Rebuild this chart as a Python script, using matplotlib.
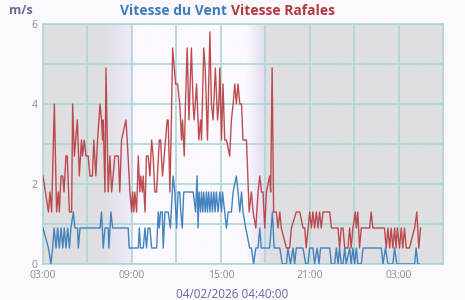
import numpy as np
import matplotlib
matplotlib.use("Agg")
import matplotlib.pyplot as plt
from matplotlib.ticker import MultipleLocator, FuncFormatter
from matplotlib.colors import to_rgb

plt.rcParams['font.family'] = ['Open Sans', 'DejaVu Sans']

# minutes after 03:00 on 03/02/2026, speeds in m/s
gust_min = [0, 22, 28, 35, 46, 55, 62, 66, 73, 80, 85, 93, 98, 107, 116, 120, 127, 139, 147, 156,
            160, 167, 174, 183, 190, 200, 206, 214, 221, 231, 237, 241, 244, 251, 255, 264, 271, 278, 291, 305,
            311, 318, 336, 341, 352, 359, 363, 368, 372, 379, 386, 392, 396, 402, 406, 413, 419, 426, 433, 440,
            446, 453, 460, 471, 476, 484, 491, 503, 507, 514, 520, 525, 537, 545, 554, 561, 565, 572, 577, 584,
            591, 601, 608, 612, 622, 631, 638, 642, 651, 657, 666, 676, 682, 689, 698, 707, 712, 716, 723, 729,
            736, 743, 756, 763, 770, 777, 783, 790, 797, 804, 810, 824, 835, 844, 851, 862, 871, 878, 885, 891,
            898, 905, 918, 922, 928, 934, 945, 952, 959, 965, 986, 999, 1006, 1026, 1040, 1053, 1060, 1066, 1080, 1087,
            1093, 1100, 1107, 1114, 1120, 1127, 1134, 1161, 1168, 1195, 1201, 1208, 1215, 1222, 1235, 1242, 1248, 1255, 1265, 1269,
            1275, 1282, 1289, 1323, 1329, 1336, 1383, 1390, 1397, 1404, 1410, 1417, 1424, 1430, 1435, 1444, 1451, 1457, 1464, 1471,
            1484, 1505, 1514, 1522, 1529]
gust_val = [2.2, 1.3, 1.8, 1.3, 4.0, 1.3, 1.8, 1.3, 2.2, 2.2, 1.8, 2.7, 2.7, 1.3, 1.3, 4.0, 2.7, 3.6, 2.2, 3.1,
            2.7, 3.1, 2.7, 2.7, 2.2, 2.2, 3.1, 2.2, 3.1, 4.0, 3.6, 3.1, 3.6, 1.8, 4.9, 1.8, 2.7, 1.8, 2.7, 2.7,
            1.8, 3.1, 3.6, 3.1, 1.8, 1.3, 1.8, 1.3, 1.8, 1.3, 2.7, 1.8, 2.2, 1.8, 2.2, 1.3, 2.7, 2.7, 2.2, 3.1,
            2.7, 1.8, 1.8, 3.1, 3.1, 2.2, 2.7, 3.6, 3.6, 1.8, 3.6, 5.4, 4.5, 4.5, 4.0, 3.1, 3.6, 2.7, 4.0, 5.4,
            3.6, 5.4, 4.0, 3.6, 4.5, 3.1, 3.6, 3.1, 5.4, 4.9, 3.1, 5.8, 4.0, 3.6, 4.9, 3.6, 4.0, 4.9, 3.1, 4.5,
            3.1, 3.1, 2.7, 3.6, 4.0, 4.5, 4.0, 4.5, 4.0, 4.0, 3.1, 3.1, 1.3, 1.8, 1.3, 0.9, 1.8, 2.2, 1.8, 1.8,
            0.9, 1.8, 2.2, 1.8, 4.9, 1.3, 1.3, 0.9, 1.3, 0.9, 0.4, 0.4, 0.9, 1.3, 1.3, 0.9, 0.9, 0.4, 1.3, 0.9,
            1.3, 0.9, 1.3, 0.9, 1.3, 0.9, 1.3, 1.3, 0.9, 0.9, 0.4, 0.9, 0.9, 0.4, 0.4, 0.9, 0.4, 0.9, 1.3, 0.9,
            1.3, 0.4, 0.9, 0.9, 1.3, 0.9, 0.9, 0.4, 0.9, 0.4, 0.9, 0.4, 0.9, 0.4, 0.9, 0.4, 0.9, 0.4, 0.9, 0.4,
            0.4, 0.9, 1.3, 0.4, 0.9]

wind_min = [0, 22, 32, 39, 45, 53, 59, 66, 73, 80, 86, 93, 100, 107, 113, 123, 129, 140, 143, 150,
            231, 237, 244, 251, 264, 267, 275, 282, 345, 349, 386, 390, 395, 406, 413, 419, 426, 433, 440, 460,
            467, 471, 476, 483, 487, 494, 507, 516, 527, 534, 541, 547, 554, 558, 564, 570, 608, 618, 624, 628,
            632, 638, 642, 647, 651, 657, 662, 666, 671, 676, 682, 686, 692, 697, 702, 709, 716, 723, 727, 736,
            743, 750, 763, 770, 783, 790, 797, 804, 810, 821, 837, 844, 853, 862, 871, 878, 884, 918, 929, 936,
            959, 969, 986, 992, 1002, 1013, 1019, 1026, 1053, 1064, 1073, 1080, 1093, 1100, 1110, 1118, 1124, 1161, 1168, 1181,
            1188, 1195, 1201, 1208, 1215, 1222, 1228, 1242, 1248, 1255, 1262, 1269, 1275, 1289, 1296, 1370, 1377, 1387, 1397, 1417,
            1424, 1433, 1505, 1511, 1518, 1525]
wind_val = [0.9, 0.4, 0.0, 0.4, 0.9, 0.4, 0.9, 0.4, 0.9, 0.4, 0.9, 0.4, 0.9, 0.4, 0.9, 1.3, 0.9, 0.9, 0.4, 0.9,
            0.9, 1.3, 0.4, 0.9, 0.9, 0.4, 1.3, 0.9, 0.9, 0.4, 0.4, 0.9, 0.4, 0.4, 0.9, 0.4, 0.9, 0.9, 0.4, 0.4,
            1.3, 0.9, 1.3, 1.3, 0.4, 1.3, 1.3, 0.9, 2.2, 1.8, 0.9, 1.8, 1.8, 1.3, 0.9, 1.8, 1.8, 1.3, 2.2, 0.9,
            1.8, 1.3, 1.8, 1.3, 1.8, 1.3, 1.8, 1.3, 1.8, 1.3, 1.8, 1.3, 1.8, 1.3, 1.8, 1.3, 1.8, 1.3, 1.8, 1.3,
            0.9, 1.3, 1.3, 1.8, 2.2, 1.8, 1.3, 1.8, 1.3, 0.9, 0.4, 0.4, 0.0, 0.4, 0.4, 0.9, 0.4, 0.4, 1.3, 0.4,
            0.4, 0.0, 0.0, 0.4, 0.0, 0.4, 0.0, 0.4, 0.4, 0.0, 0.0, 0.4, 0.4, 0.0, 0.4, 0.0, 0.4, 0.4, 0.0, 0.0,
            0.4, 0.0, 0.4, 0.0, 0.0, 0.4, 0.0, 0.4, 0.0, 0.4, 0.0, 0.4, 0.0, 0.0, 0.4, 0.4, 0.0, 0.4, 0.0, 0.0,
            0.4, 0.0, 0.0, 0.4, 0.0, 0.0]

x_labels = ['03:00', '09:00', '15:00', '21:00', '03:00']
title_wind = 'Vitesse du Vent'
title_gust = 'Vitesse Rafales'
unit = 'm/s'
stamp = '04/02/2026 04:40:00'

bg = '#fbf9fe'
night = '#dfdfe2'
grid_c = '#acd6d7'

fig = plt.figure(figsize=(4.65, 3.0), dpi=100, facecolor=bg)
ax = fig.add_axes([43 / 465, 1 - 264 / 300, 400 / 465, 240 / 300])
ax.set_facecolor(bg)

# night / day shading (hours after 03:00)
stops_h = [0, 4.1, 6.0, 6.0, 13.7, 14.95, 14.95, 27]
stops_c = [night, night, '#f1eafb', bg, bg, '#e2dcef', night, night]
xs = np.linspace(0, 27, 1200)
rgb = np.array([to_rgb(c) for c in stops_c])
img = np.stack([np.interp(xs, stops_h, rgb[:, k]) for k in range(3)], axis=-1)[None, :, :]
ax.imshow(img, extent=[0, 27, 0, 6], aspect='auto', zorder=0, interpolation='bilinear')

ax.plot(np.array(gust_min) / 60, gust_val, color='#b83a3e', lw=1.0, alpha=0.9, zorder=3)
ax.plot(np.array(wind_min) / 60, wind_val, color='#3a7dbb', lw=1.0, alpha=0.95, zorder=4)

ax.set_xlim(0, 27)
ax.set_ylim(0, 6)
ax.xaxis.set_major_locator(MultipleLocator(3))
ax.yaxis.set_major_locator(MultipleLocator(1))
ax.xaxis.set_major_formatter(FuncFormatter(
    lambda v, p: x_labels[int(round(v / 6))] if abs(v % 6) < 1e-6 and int(round(v / 6)) < len(x_labels) else ''))
ax.yaxis.set_major_formatter(FuncFormatter(lambda v, p: f'{int(v)}' if int(v) % 2 == 0 else ''))
ax.grid(True, color=grid_c, lw=1.2, zorder=2)
ax.set_axisbelow(False)
ax.tick_params(length=0, labelsize=7.5, labelcolor='#8c8c8c', pad=4)
for s in ax.spines.values():
    s.set_color(grid_c)
    s.set_linewidth(1.2)

fig.text(231 / 465, 1 - 11 / 300, title_wind + ' ', color='#3b7dbd', fontsize=10, fontweight='bold',
         ha='right', va='center')
fig.text(231 / 465, 1 - 11 / 300, title_gust, color='#b3393d', fontsize=10, fontweight='bold',
         ha='left', va='center')
fig.text(21 / 465, 1 - 10 / 300, unit, color='#6a6898', fontsize=9, fontweight='bold', ha='center', va='center')
fig.text(232 / 465, 1 - 294 / 300, stamp, color='#6a62a0', fontsize=8.5, ha='center', va='center')

fig.savefig('out.png', dpi=100, facecolor=bg)
